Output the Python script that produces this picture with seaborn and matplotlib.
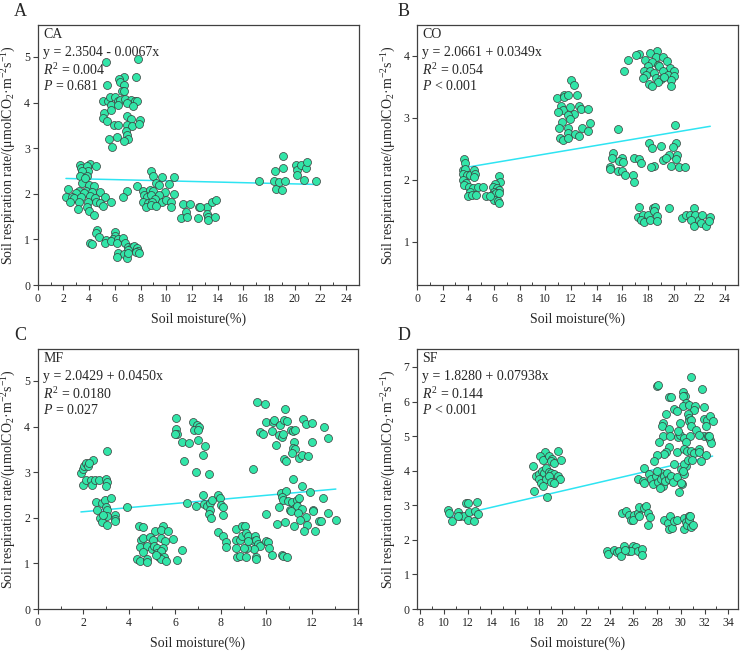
import matplotlib
matplotlib.use("Agg")
import matplotlib.pyplot as plt
from matplotlib.ticker import MultipleLocator
import seaborn as sns
import pandas as pd

# ---------------- data ----------------
ca_x = [5.31, 7.82, 5.39, 6.74, 7.62, 6.35, 6.40, 6.72, 6.53, 6.72, 5.10, 5.44, 5.62, 6.00, 6.26, 6.44, 6.80, 7.23, 7.56, 7.69,
        5.70, 6.26, 6.92, 7.38, 5.18, 5.70, 5.10, 5.41, 5.96, 6.26, 6.97, 7.26, 6.92, 7.33, 7.95, 7.90, 6.87, 6.92, 6.19, 5.52,
        7.00, 6.74, 5.75,
        3.29, 4.07, 4.53, 3.37, 3.86, 3.91, 3.42, 3.29, 3.86, 3.42, 3.96, 4.35, 2.38, 3.78, 3.18, 3.63, 4.25, 4.84, 3.00, 2.20,
        2.64, 2.85, 3.37, 4.07, 4.46, 5.23, 2.51, 3.21, 3.91, 4.51, 4.87, 5.08, 5.70, 3.11, 3.83, 4.02, 4.35, 6.92, 6.66, 3.68,
        4.59, 4.53, 4.77, 4.07, 4.25, 5.31, 5.23, 6.00, 6.00, 5.88, 5.67, 6.26, 6.14, 6.61, 6.79, 7.05, 7.31, 7.51, 7.69, 7.82,
        7.62, 7.90, 7.05, 6.26, 6.72, 6.92, 6.14, 7.00,
        8.81, 8.94, 9.69, 10.62, 9.20, 9.46, 10.23, 7.69, 8.16, 8.73, 8.94, 9.90, 10.60, 8.26, 8.47, 8.81, 9.46, 9.12, 8.21, 8.60,
        8.86, 9.64, 9.97, 10.41, 8.42, 8.78, 9.20, 10.41,
        11.27, 11.84, 11.53, 11.14, 11.58, 12.56, 13.19, 13.60, 13.91, 13.14, 13.26, 13.26, 12.49, 13.78, 12.60,
        17.20, 18.45, 18.37, 18.52, 18.78, 19.04, 19.09, 19.09, 19.22, 20.08, 20.18, 20.20, 20.52, 20.86, 20.96, 20.70, 21.68]
ca_y = [4.89, 4.96, 4.38, 4.56, 4.56, 4.52, 4.44, 4.38, 4.25, 4.25, 4.03, 4.04, 4.12, 4.12, 4.03, 4.06, 4.08, 4.06, 4.03, 4.04,
        3.95, 3.94, 3.99, 3.92, 3.77, 3.83, 3.66, 3.60, 3.51, 3.51, 3.71, 3.64, 3.51, 3.49, 3.62, 3.54, 3.37, 3.29, 3.25, 3.20,
        3.20, 3.16, 3.03,
        2.62, 2.66, 2.60, 2.56, 2.60, 2.49, 2.51, 2.38, 2.38, 2.23, 2.20, 2.16, 2.11, 2.06, 2.05, 2.01, 2.03, 2.04, 2.01, 1.94,
        1.94, 1.90, 1.92, 1.95, 1.90, 1.94, 1.82, 1.82, 1.83, 1.83, 1.79, 1.74, 1.82, 1.66, 1.71, 1.63, 1.53, 2.05, 1.93, 2.34,
        1.21, 1.13, 1.06, 0.93, 0.90, 0.99, 0.92, 1.16, 1.08, 1.00, 0.97, 1.00, 0.92, 1.02, 0.92, 0.84, 0.83, 0.86, 0.81, 0.75,
        0.72, 0.71, 0.77, 0.70, 0.68, 0.60, 0.61, 0.70,
        2.49, 2.38, 2.36, 2.36, 2.23, 2.20, 2.21, 2.17, 2.05, 2.09, 2.05, 2.04, 2.00, 1.98, 1.93, 1.98, 1.98, 1.88, 1.81, 1.79,
        1.83, 1.81, 1.87, 1.83, 1.72, 1.76, 1.73, 1.72,
        1.78, 1.78, 1.60, 1.46, 1.49, 1.72, 1.72, 1.83, 1.87, 1.56, 1.50, 1.43, 1.46, 1.49, 1.70,
        2.28, 2.49, 2.27, 2.11, 2.25, 2.09, 2.56, 2.83, 2.29, 2.62, 2.53, 2.42, 2.62, 2.56, 2.69, 2.31, 2.27]

co_x = [3.64, 3.74, 3.56, 3.77, 3.56, 3.90, 4.13, 4.42, 4.52, 4.47, 3.56, 3.82, 3.64, 4.03, 4.34, 4.73, 5.12, 4.16, 4.00, 4.26,
        4.60, 5.38, 6.36, 6.49, 6.08, 5.90, 6.23, 6.36, 6.03, 5.82, 6.16, 6.36, 5.97, 6.29, 6.42, 5.71,
        12.00, 12.26, 10.91, 11.43, 11.48, 11.79, 12.47, 11.22, 11.35, 11.00, 11.95, 12.21, 12.65, 12.78, 13.30, 11.74, 11.95,
        11.30, 11.09, 11.79, 12.83, 13.30, 13.51, 11.79, 12.31, 12.65, 11.17, 11.35, 11.79,
        18.70, 18.18, 17.32, 17.06, 16.47, 18.62, 19.14, 19.48, 17.77, 18.31, 18.75, 17.97, 18.86, 19.74, 20.00, 16.10, 17.71,
        18.18, 19.14, 18.44, 17.87, 19.53, 20.00, 17.58, 18.62, 19.01, 19.79, 18.75, 18.05, 18.31, 19.79, 19.27,
        15.64, 20.10, 18.10, 18.31, 20.18, 19.92, 19.01, 15.25, 19.61, 20.26, 15.17, 15.95, 16.94, 17.32, 15.77, 16.08, 17.45,
        19.14, 19.40, 20.18, 15.06, 15.04, 18.44, 18.23, 19.79, 20.44, 20.88, 15.64, 15.97, 16.23, 16.81, 16.94,
        17.32, 17.24, 17.58, 17.45, 17.71, 18.02, 18.36, 18.57, 18.49, 18.18, 18.70, 18.70, 19.66, 20.62, 20.96, 21.30, 21.56,
        21.69, 21.35, 21.61, 22.00, 22.21, 22.13, 22.52, 22.86, 22.78]
co_y = [2.34, 2.27, 2.16, 2.18, 2.10, 2.08, 2.08, 2.16, 2.10, 2.05, 2.00, 1.95, 1.91, 1.89, 1.86, 1.89, 1.88, 1.81, 1.74, 1.75,
        1.75, 1.73, 2.06, 1.97, 1.93, 1.89, 1.86, 1.83, 1.81, 1.75, 1.78, 1.78, 1.67, 1.66, 1.62, 1.73,
        3.61, 3.53, 3.32, 3.37, 3.33, 3.37, 3.37, 3.19, 3.13, 3.10, 3.17, 3.07, 3.19, 3.15, 3.15, 3.05, 2.98,
        2.93, 2.83, 2.83, 2.83, 2.79, 2.91, 2.75, 2.74, 2.71, 2.68, 2.65, 2.67,
        4.08, 4.04, 4.03, 4.01, 3.94, 3.98, 3.99, 3.92, 3.93, 3.90, 3.85, 3.83, 3.83, 3.80, 3.76, 3.76, 3.76,
        3.76, 3.75, 3.72, 3.69, 3.69, 3.67, 3.65, 3.65, 3.62, 3.61, 3.58, 3.55, 3.51, 3.51, 3.66,
        2.82, 2.89, 2.59, 2.52, 2.59, 2.53, 2.54, 2.44, 2.40, 2.40, 2.35, 2.35, 2.35, 2.33, 2.31, 2.29, 2.27,
        2.32, 2.35, 2.33, 2.21, 2.18, 2.22, 2.20, 2.22, 2.20, 2.20, 2.14, 2.14, 2.08, 2.08, 1.96,
        1.56, 1.40, 1.43, 1.35, 1.31, 1.43, 1.54, 1.56, 1.50, 1.35, 1.41, 1.34, 1.54, 1.39, 1.43, 1.43, 1.55,
        1.43, 1.35, 1.25, 1.35, 1.43, 1.30, 1.25, 1.40, 1.34]

mf_x = [1.89, 1.96, 2.04, 2.11, 2.21, 2.40, 2.26, 3.04, 1.99, 2.11, 2.31, 2.36, 2.50, 2.69, 2.98, 3.04, 2.98, 2.55, 2.61, 2.79,
        2.94, 3.19, 2.98, 3.04, 3.01, 2.72, 2.79, 3.04, 3.38, 3.38, 3.38, 3.92, 2.87,
        4.44, 4.61, 5.49, 5.12, 5.37, 5.71, 4.53, 4.61, 4.91, 5.02, 5.37, 5.56, 5.90, 4.47, 4.76, 4.98, 5.08, 5.20, 5.46, 6.29,
        4.61, 5.20, 5.41, 5.31, 5.52, 4.32, 4.47, 4.76, 4.76, 5.41, 5.60, 6.07, 5.17,
        6.03, 6.03, 6.11, 5.99, 6.32, 6.62, 6.80, 6.95, 7.04, 6.84, 7.02, 7.02, 7.30, 7.21, 6.39, 6.91, 7.48,
        6.51, 7.23, 7.26, 7.38, 7.53, 7.61, 6.91, 7.89, 7.96, 8.03, 8.11, 7.53, 7.50, 7.56, 8.08, 7.89,
        8.08, 8.21, 8.23, 8.66, 8.91, 9.05, 8.66, 8.84, 8.91, 9.10, 9.20, 9.49, 9.45, 9.56, 9.64, 9.71, 9.45, 9.13, 9.01, 8.66,
        8.69, 8.86, 9.10, 9.56, 9.56, 9.97, 10.07, 10.12, 9.20,
        9.59, 9.93, 10.80, 9.72, 9.83, 10.00, 10.29, 10.33, 10.22, 10.58, 10.76, 10.90, 10.55, 10.66, 10.73, 11.06, 11.17, 11.24,
        10.41, 11.20, 11.17, 11.24, 11.60, 11.72, 12.01, 12.52, 12.69, 12.01, 10.75, 10.84, 11.41, 11.57, 11.81, 11.13,
        9.42, 11.17, 11.53, 10.63, 10.87, 10.66, 10.73, 10.92, 11.13, 11.35, 11.43, 11.92, 12.45, 10.55, 11.02, 11.24, 11.35,
        11.53, 11.08, 12.04, 12.04, 11.38, 11.72, 12.69, 13.03, 9.97, 10.44, 10.80, 11.45, 11.19, 11.75, 12.31, 12.37, 11.63,
        12.10, 10.26, 10.66, 10.70, 10.90]
mf_y = [2.99, 3.07, 3.13, 3.19, 3.13, 3.27, 3.21, 3.46, 2.72, 2.83, 2.83, 2.72, 2.82, 2.83, 2.84, 2.78, 2.69, 2.34, 2.17, 2.33,
        2.40, 2.44, 2.24, 2.17, 2.04, 2.00, 1.90, 1.85, 2.07, 1.98, 1.93, 2.23, 2.07,
        1.82, 1.80, 1.83, 1.72, 1.73, 1.71, 1.51, 1.56, 1.57, 1.52, 1.56, 1.49, 1.54, 1.35, 1.38, 1.32, 1.39, 1.34, 1.34, 1.30,
        1.24, 1.23, 1.27, 1.14, 1.14, 1.10, 1.05, 1.10, 1.02, 1.10, 1.05, 1.07, 1.19,
        4.19, 3.94, 3.83, 3.83, 3.67, 3.63, 4.11, 4.03, 4.00, 3.92, 3.92, 3.70, 3.57, 3.37, 3.24, 3.00, 2.97,
        2.33, 2.51, 2.31, 2.25, 2.33, 2.40, 2.25, 2.50, 2.44, 2.29, 2.24, 2.18, 2.09, 2.00, 2.05, 1.68,
        1.60, 1.46, 1.35, 1.76, 1.83, 1.82, 1.52, 1.52, 1.61, 1.67, 1.60, 1.61, 1.49, 1.52, 1.43, 1.38, 1.32, 1.34, 1.34, 1.34,
        1.14, 1.17, 1.14, 1.14, 1.10, 1.49, 1.46, 1.34, 1.49,
        4.54, 4.50, 4.39, 3.88, 3.84, 4.11, 4.10, 4.14, 3.90, 4.03, 4.14, 4.12, 3.81, 3.76, 3.83, 3.92, 3.90, 3.92,
        3.59, 3.66, 3.54, 3.51, 4.16, 4.05, 4.07, 3.99, 3.74, 3.67, 3.28, 3.24, 3.32, 3.37, 3.35, 3.43,
        3.07, 2.84, 2.69, 2.55, 2.58, 2.46, 2.40, 2.36, 2.34, 2.40, 2.44, 2.56, 2.44, 2.23, 2.18, 2.22, 2.25,
        2.20, 2.15, 2.18, 2.15, 2.11, 2.02, 2.11, 1.96, 2.09, 1.87, 1.90, 1.95, 1.83, 1.85, 1.93, 1.93, 1.72,
        1.71, 1.19, 1.19, 1.16, 1.14]

sf_x = [10.31, 10.39, 10.67, 11.21, 11.38, 11.85, 11.99, 11.71, 12.05, 12.14, 12.50, 12.61, 12.78, 12.84, 11.21,
        18.52, 19.59, 18.12, 18.32, 18.88, 19.11, 19.03, 19.25, 19.87, 17.54, 17.76, 18.05, 18.24, 18.47, 18.61, 18.83, 19.03,
        19.31, 19.59, 19.82, 17.99, 18.19, 18.61, 18.83, 19.03, 19.25, 18.32, 17.57, 18.69,
        23.76, 23.87, 24.32, 24.60, 24.80, 24.94, 25.16, 25.50, 25.92, 26.20, 25.78, 26.35, 26.68, 26.68, 25.27,
        25.00, 25.36, 25.64, 25.78, 26.06, 26.35, 25.99, 26.43, 26.85, 27.05, 27.19, 27.42, 27.25, 26.49,
        28.60, 28.88, 29.10, 28.96, 29.24, 29.44, 29.67, 30.28, 30.43, 30.28, 30.50, 30.65, 30.70, 30.85, 30.99, 30.79,
        26.91, 26.35, 26.77, 26.91, 27.27, 27.47, 27.61, 27.89, 28.09, 28.32, 28.32, 28.46, 28.60, 28.65, 28.26, 28.82, 28.96,
        29.16, 29.30, 29.67, 29.86, 30.09, 30.28, 30.00, 30.43, 30.28, 29.44, 30.14, 27.95,
        27.98, 28.09, 30.85, 30.20, 30.34, 31.75, 28.96, 29.16, 30.14, 30.43, 30.22, 30.65, 31.18, 29.41, 29.67, 31.12, 31.97,
        28.77, 30.57, 30.71, 30.65, 30.85, 31.97, 32.25, 32.48, 32.68, 32.11, 28.46, 28.40, 29.02, 29.95, 30.85, 31.27, 31.97,
        32.30, 32.48, 32.54, 32.39, 28.46, 29.10, 29.72, 29.95, 30.28, 30.79, 31.55, 29.78, 28.17, 30.43, 29.02, 28.74, 28.60,
        29.67, 30.28, 30.50, 30.85, 31.07, 31.55, 31.55, 32.11, 31.69, 30.60, 30.96, 27.95, 27.75, 30.00]
sf_y = [2.85, 2.78, 2.54, 2.81, 2.68, 3.07, 3.07, 2.68, 2.58, 2.81, 2.54, 2.84, 3.09, 2.76, 2.68,
        4.53, 4.56, 4.42, 4.32, 4.42, 4.34, 4.27, 4.22, 4.30, 4.13, 3.86, 3.89, 3.98, 3.93, 4.08, 3.95, 3.92,
        3.89, 3.84, 3.76, 3.76, 3.63, 3.76, 3.84, 3.66, 3.63, 3.55, 3.42, 3.23,
        1.67, 1.59, 1.72, 1.64, 1.69, 1.54, 1.81, 1.69, 1.81, 1.79, 1.67, 1.67, 1.74, 1.57, 1.72,
        2.78, 2.83, 2.73, 2.58, 2.71, 2.78, 2.58, 2.95, 2.92, 2.97, 2.78, 2.65, 2.44, 2.68,
        2.58, 2.49, 2.68, 2.31, 2.34, 2.54, 2.58, 2.63, 2.52, 2.31, 2.44, 2.68, 2.58, 2.37, 2.44, 2.68,
        4.08, 3.76, 3.71, 3.65, 3.89, 3.76, 3.62, 3.84, 3.66, 3.92, 3.76, 3.57, 3.84, 3.69, 3.50, 3.92, 3.76,
        3.84, 3.66, 3.82, 3.38, 3.62, 3.89, 4.05, 4.13, 4.18, 4.18, 3.98, 3.98,
        6.46, 6.48, 6.71, 6.27, 6.17, 6.37, 6.14, 6.14, 6.15, 5.96, 5.88, 5.91, 5.88, 5.79, 5.72, 5.75, 5.84,
        5.64, 5.65, 5.53, 5.45, 5.48, 5.50, 5.48, 5.59, 5.43, 5.30, 5.38, 5.28, 5.21, 5.38, 5.28, 5.19, 5.01,
        4.99, 4.88, 4.80, 4.99, 4.99, 4.99, 4.98, 5.04, 4.95, 4.99, 5.04, 5.14, 4.82, 4.82, 4.69, 4.53, 4.49,
        4.53, 4.63, 4.56, 4.56, 4.51, 4.63, 4.53, 4.46, 4.27, 4.32, 4.32, 4.44, 4.27, 3.65]

site_names = ["CA", "CO", "MF", "SF"]
panel_letters = ["A", "B", "C", "D"]
intercepts = [2.3504, 2.0661, 2.0429, 1.8280]
slopes = [-0.0067, 0.0349, 0.0450, 0.07938]
eq_texts = ["y = 2.3504 - 0.0067x", "y = 2.0661 + 0.0349x", "y = 2.0429 + 0.0450x", "y = 1.8280 + 0.07938x"]
r2_texts = ["0.004", "0.054", "0.0180", "0.144"]
p_texts = ["= 0.681", "< 0.001", "= 0.027", "< 0.001"]

# ---------------- style ----------------
sns.set_style("ticks")
plt.rcParams["font.family"] = ["Liberation Serif", "DejaVu Serif"]
plt.rcParams["mathtext.fontset"] = "custom"
plt.rcParams["mathtext.rm"] = "Liberation Serif"
plt.rcParams["mathtext.it"] = "Liberation Serif:italic"
plt.rcParams["mathtext.bf"] = "Liberation Serif:bold"
plt.rcParams["axes.unicode_minus"] = False

POINT = "#32E5A8"
EDGE = "#3a3a3a"
LINE = "#2EE4F2"
SPINE = "#404040"

fig = plt.figure(figsize=(7.42, 6.54), dpi=100)
positions = [
    [0.0508, 0.5642, 0.4330, 0.3976],
    [0.5620, 0.5642, 0.4322, 0.3976],
    [0.0508, 0.0688, 0.4317, 0.3976],
    [0.5620, 0.0688, 0.4322, 0.3976],
]
xlims = [(0, 25), (0, 25), (0, 14), (7.72, 34.8)]
ylims = [(0, 5.7), (0.3, 4.5), (0, 5.7), (0, 7.52)]
xmajor = [(0, 24), (0, 24), (0, 14), (8, 34)]
ymax_tick = [5, 4, 5, 7]
ymin_tick = [0, 1, 0, 0]

data = [(ca_x, ca_y), (co_x, co_y), (mf_x, mf_y), (sf_x, sf_y)]
letter_pos = [(20, 11), (404, 11), (20, 335), (404, 335)]

for i in range(4):
    ax = fig.add_axes(positions[i])
    xs, ys = data[i]
    df = pd.DataFrame({"x": xs, "y": ys})
    sns.scatterplot(data=df, x="x", y="y", ax=ax, color=POINT, edgecolor=EDGE,
                    linewidth=0.5, s=33, zorder=3, legend=False)
    x0, x1 = min(xs), max(xs)
    line_df = pd.DataFrame({"x": [x0, x1],
                            "y": [intercepts[i] + slopes[i] * x0, intercepts[i] + slopes[i] * x1]})
    sns.lineplot(data=line_df, x="x", y="y", ax=ax, color=LINE, linewidth=1.1, zorder=2)

    ax.set_xlim(*xlims[i])
    ax.set_ylim(*ylims[i])
    ax.set_xticks(list(range(xmajor[i][0], xmajor[i][1] + 1, 2)))
    ax.set_yticks(list(range(ymin_tick[i], ymax_tick[i] + 1)))
    ax.xaxis.set_minor_locator(MultipleLocator(1))
    ax.tick_params(axis="both", which="major", direction="out", length=3.5, width=0.8,
                   labelsize=8.5, color=SPINE, pad=2)
    ax.tick_params(axis="x", which="minor", direction="in", length=2, width=0.7, color=SPINE)
    for sp in ax.spines.values():
        sp.set_visible(True)
        sp.set_color(SPINE)
        sp.set_linewidth(0.9)

    ax.set_xlabel("Soil moisture(%)", fontsize=10, labelpad=6)
    ax.set_ylabel("Soil respiration rate/(μmolCO$_2$·m$^{-2}$s$^{-1}$)", fontsize=10, labelpad=4)

    tx = 0.017
    ax.text(tx, 0.962, site_names[i], transform=ax.transAxes, fontsize=10, va="center", ha="left")
    ax.text(tx, 0.895, eq_texts[i], transform=ax.transAxes, fontsize=10, va="center", ha="left")
    ax.text(tx, 0.826, "$R^2$ = " + r2_texts[i], transform=ax.transAxes, fontsize=10, va="center", ha="left")
    ax.text(tx, 0.765, "$P$ " + p_texts[i], transform=ax.transAxes, fontsize=10, va="center", ha="left")

    lx, ly = letter_pos[i]
    fig.text(lx / 742, 1 - ly / 654, panel_letters[i], fontsize=13, ha="center", va="center")

fig.savefig("out.png", dpi=100)
